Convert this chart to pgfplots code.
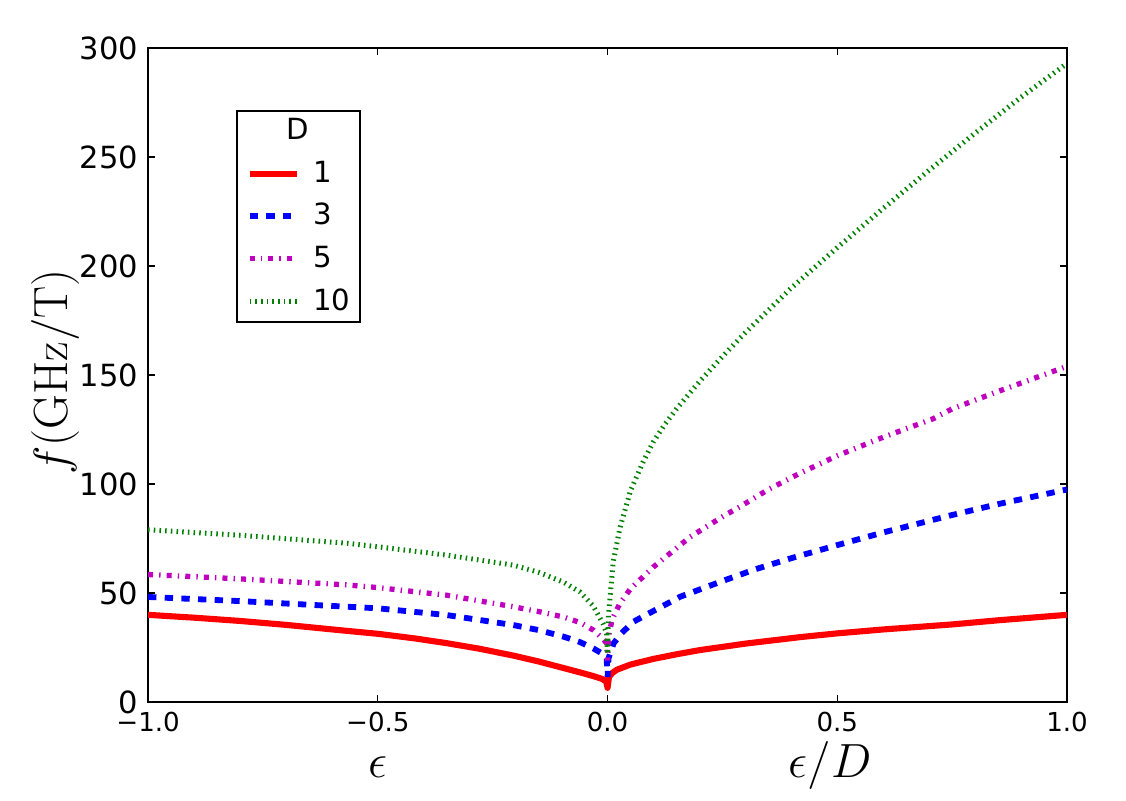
\documentclass[border=0pt]{standalone}
\usepackage[no-math]{fontspec}
\setmainfont{DejaVu Sans}
\usepackage{pgfplots}
\pgfplotsset{compat=1.18}
\definecolor{mplmag}{rgb}{0.75,0,0.75}
\definecolor{mplgreen}{rgb}{0,0.5,0}

\begin{document}
\begin{tikzpicture}
\begin{axis}[
    name=ax,
    scale only axis,
    width=330.8pt, height=235.4pt,
    xmin=-1, xmax=1, ymin=0, ymax=300,
    xtick={-1,-0.5,0,0.5,1},
    xticklabels={−1.0,−0.5,0.0,0.5,1.0},
    ytick={0,50,100,150,200,250,300},
    yticklabels={0,50,100,150,200,250,300},
    tick align=inside,
    major tick length=2.6pt,
    tick style={black, line width=0.4pt},
    axis line style={line width=0.5pt},
    xticklabel style={font=\fontsize{9.4}{11}\selectfont},
    yticklabel style={font=\fontsize{11}{13}\selectfont},
    legend style={at={(rel axis cs:0.0958,0.905)}, anchor=north west,
        draw=black, line width=0.5pt, font=\fontsize{10.5}{12}\selectfont,
        inner xsep=3.5pt, inner ysep=0.75pt, row sep=2.1pt,
        nodes={inner xsep=0pt},
        /tikz/every odd column/.append style={column sep=4.7pt}},
    legend cell align=left,
]
\addlegendimage{legend image code/.code={
    \node[overlay, inner sep=0pt, font=\fontsize{10.5}{12}\selectfont]
        at (12.9pt,0pt) {D};}}
\addlegendentry{\phantom{D}}

% D = 1
\addplot[red, line width=2.2pt, line join=round] coordinates {
    (-1,40) (-0.9,38.7) (-0.8,37.2) (-0.7,35.4) (-0.565,32.6) (-0.5,31.3)
    (-0.42,29.2) (-0.35,27) (-0.28,24.5) (-0.205,21.3) (-0.15,18.6)
    (-0.096,15.6) (-0.06,13.6) (-0.031,11.9) (-0.012,10.6) (-0.003,9.4)
    (0,6.5)
    (0.003,11.5) (0.01,13.3) (0.02,14.8) (0.05,17.2) (0.1,19.8) (0.15,21.9)
    (0.2,23.8) (0.25,25.3) (0.3,26.8) (0.42,29.8) (0.5,31.5) (0.6,33.3)
    (0.75,35.6) (0.85,37.5) (1,40)
};
\addlegendentry{1}

% D = 3
\addplot[blue, line width=2.1pt, dash pattern=on 3pt off 3pt] coordinates {
    (-1,48.2) (-0.8,46.3) (-0.565,43.7) (-0.5,43) (-0.35,39.9) (-0.205,35.3)
    (-0.15,33) (-0.096,30) (-0.06,27.5) (-0.031,24.6) (-0.01,22) (-0.002,20)
    (0,11.5)
    (0.002,20) (0.013,26.9) (0.03,31.5) (0.056,36.8) (0.1,41.8) (0.158,48.3)
    (0.25,55.5) (0.32,60.8) (0.4,66) (0.5,72) (0.6,77.8) (0.75,85.8)
    (0.85,90.8) (1,97.5)
};
\addlegendentry{3}

% D = 5
\addplot[mplmag, line width=1.9pt,
    dash pattern=on 1.8pt off 2.2pt on 0.5pt off 2.2pt] coordinates {
    (-1,58.5) (-0.8,56.5) (-0.565,53.7) (-0.5,52.5) (-0.35,49) (-0.205,43.7)
    (-0.15,41.5) (-0.096,39) (-0.06,36.5) (-0.031,33) (-0.01,29) (-0.002,26.9)
    (0,19)
    (0.002,30) (0.01,38) (0.027,45.3) (0.05,52) (0.085,59) (0.1,62)
    (0.18,75.8) (0.25,85) (0.288,89.6) (0.35,97.5) (0.419,105) (0.5,113)
    (0.6,121.5) (0.709,130) (0.75,134.5) (0.85,142.5) (1,154)
};
\addlegendentry{5}

% D = 10
\addplot[mplgreen, line width=1.8pt, dash pattern=on 0.55pt off 1.5pt] coordinates {
    (-1,79) (-0.8,76.5) (-0.565,72.8) (-0.5,71.2) (-0.35,67.4) (-0.205,62.8)
    (-0.15,59.5) (-0.096,55) (-0.06,50.5) (-0.031,44) (-0.01,36) (-0.002,31.6)
    (0,22)
    (0.002,40) (0.012,64) (0.027,80) (0.05,97) (0.077,110) (0.1,119.5)
    (0.125,127.5) (0.15,134.5) (0.2,147) (0.25,158.5) (0.3,169.5) (0.4,190)
    (0.5,208.5) (0.6,226.5) (0.7,244) (0.8,261) (0.9,277.5) (1,293)
};
\addlegendentry{10}
\end{axis}

\node[anchor=base, font=\fontsize{16.5}{18}\selectfont] at (82.8pt,-27pt) {$\epsilon$};
\node[anchor=base, font=\fontsize{16.5}{18}\selectfont] at (245.5pt,-27pt) {$\epsilon/D$};
\node[rotate=90, font=\fontsize{16.5}{18}\selectfont] at (-33.5pt,118.8pt) {$f(\mathrm{GHz/T})$};

\pgfresetboundingbox
\path[use as bounding box] (-53.3pt,-35.3pt) rectangle (352pt,252.7pt);
\end{tikzpicture}
\end{document}
